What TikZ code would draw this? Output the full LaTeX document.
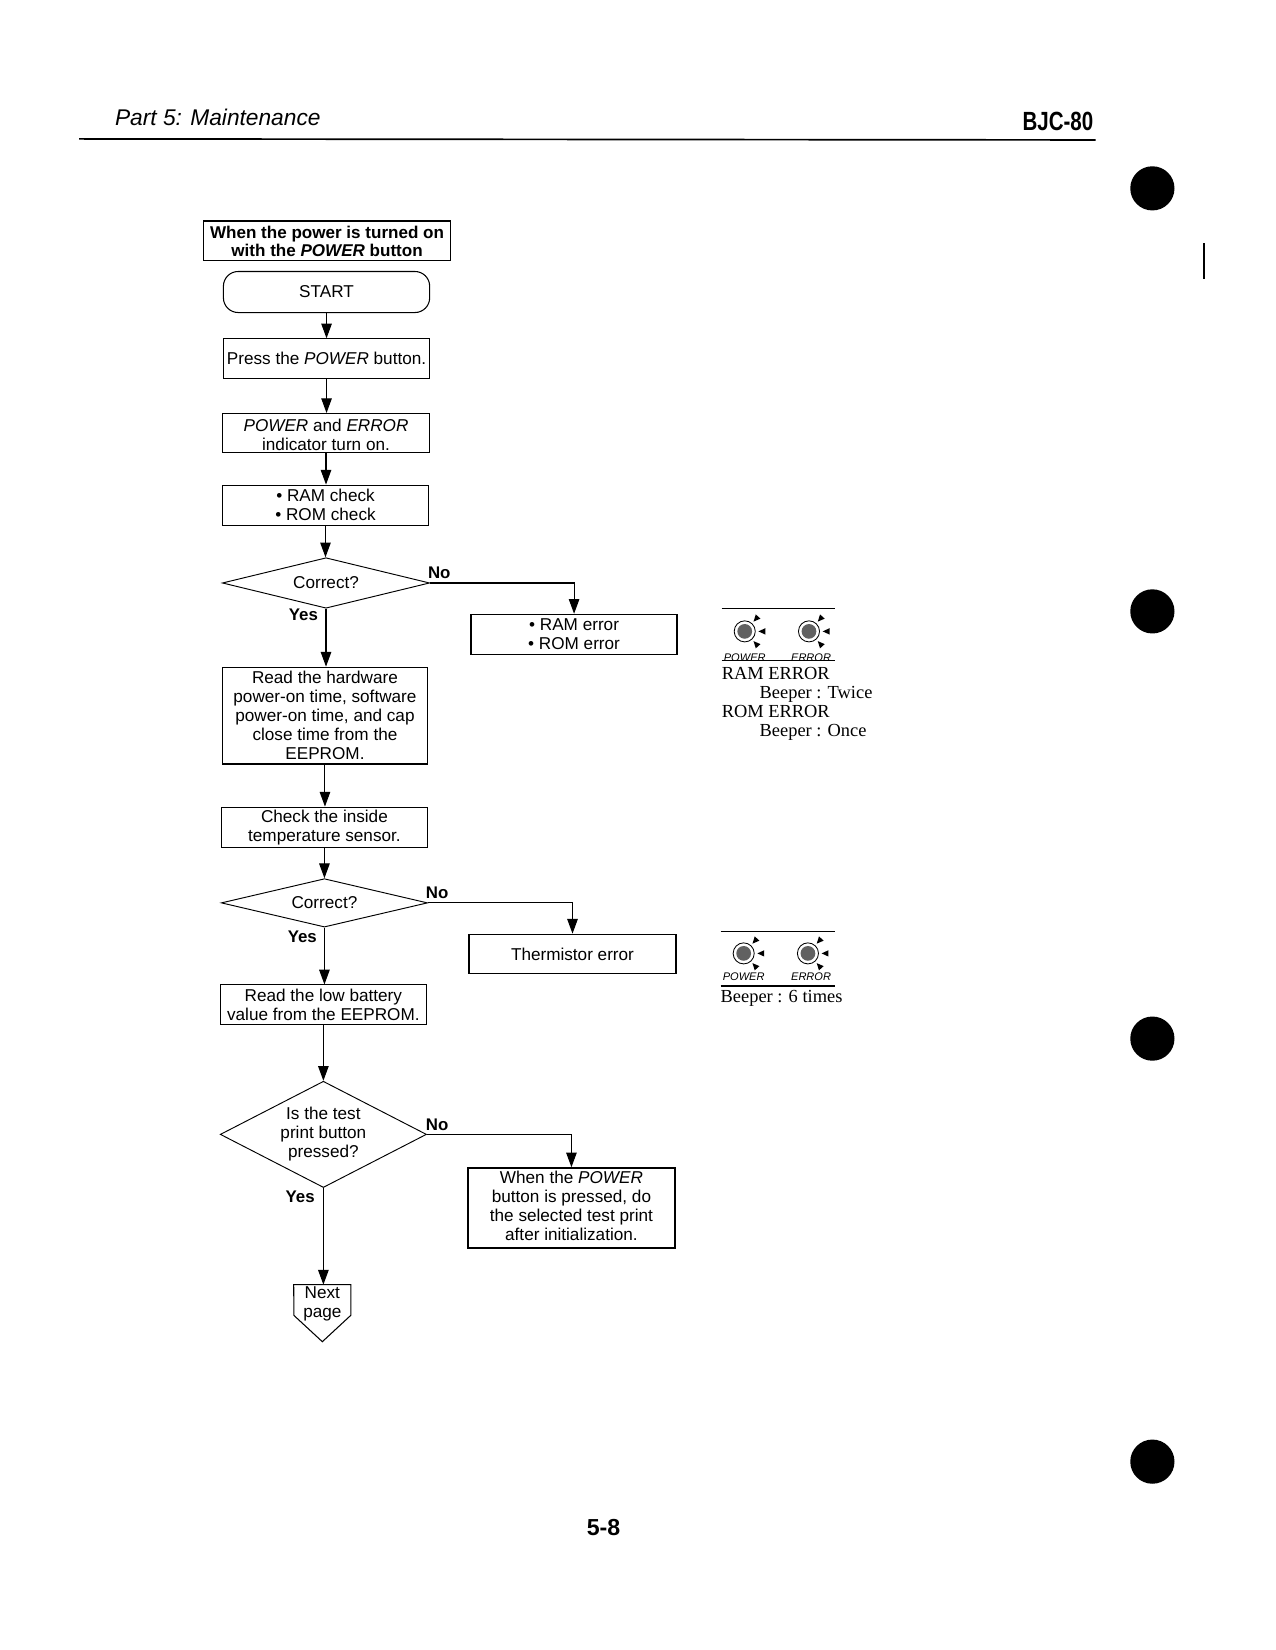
\documentclass[tikz,border=0pt]{standalone}
\usepackage{fontspec}
\setmainfont{Liberation Sans}
\newfontfamily\printface{Liberation Serif}
\usetikzlibrary{arrows.meta,shapes.geometric,calc}
\newcommand{\lowerstrut}[1]{\rule[-#1pt]{0pt}{1pt}}
\newcommand{\upperstrut}[1]{\rule{0pt}{#1pt}}
\tikzset{
  flowbox/.style={draw=black,line width=1pt,rectangle,inner sep=0pt,align=center,font=\fontsize{16.3}{18}\selectfont},
  heavybox/.style={flowbox,line width=1.5pt},
  decide/.style={draw=black,line width=0.9pt,diamond,inner sep=0pt,align=center,font=\fontsize{16.3}{18}\selectfont},
  arr/.style={draw=black,line width=1pt,-{Triangle[length=14pt,width=10pt]}},
  tag/.style={inner sep=0pt,font=\fontsize{16}{18}\selectfont\bfseries},
  printtext/.style={inner sep=0pt,anchor=west,font=\fontsize{17.5}{18}\selectfont\printface},
  ledtag/.style={inner sep=0pt,font=\fontsize{10.5}{12}\selectfont\itshape},
  rulebar/.style={draw=black,line width=1.2pt},
  led/.pic={
    \draw[black,line width=0.8pt] (0,0) circle (10);
    \fill[black!62] (0,0) circle (7);
    \foreach \a/\r in {-48/12.5,0/13,48/12.5}{
      \fill[black] (\a:\r) -- ($(\a:\r+6.5)+(\a+90:3)$) -- ($(\a:\r+6.5)+(\a-90:3)$) -- cycle;
    }
  }
}
\begin{document}
\begin{tikzpicture}[x=1.001pt,y=-1pt]
\useasboundingbox (0,0) rectangle (1210.5,1568);
% header
\node[inner sep=0pt,anchor=west,font=\fontsize{21.6}{24}\selectfont\itshape] (head) at (109,111.5) {Part 5: Maintenance};
\node[inner sep=0pt,anchor=east,xscale=0.78,font=\fontsize{25}{26}\selectfont\bfseries] (model) at (1038,115) {BJC-80};
\draw[black,line width=1.6pt] (75,132) -- (1040,133);
% page marks
\foreach \y in {179,581,987,1389} \fill[black] (1094,\y) circle (21);
\draw[black,line width=1pt] (1143,231) -- (1143,265);
% flow
\node[flowbox,minimum width=235,minimum height=38,font=\fontsize{16.2}{17}\selectfont\bfseries] (title) at (310.5,229) {When the power is turned on\\with the \textit{POWER} button};
\node[flowbox,rounded corners=14pt,minimum width=196,minimum height=39] (start) at (310,277.5) {START};
\node[flowbox,minimum width=196,minimum height=38] (press) at (310,341) {Press the \textit{POWER} button.};
\node[flowbox,minimum width=197,minimum height=37] (lamps) at (309.5,411.5) {\upperstrut{16}\textit{POWER} and \textit{ERROR}\\indicator turn on.};
\node[flowbox,minimum width=196,minimum height=38] (check) at (309,480) {• RAM check\\• ROM check};
\node[decide,aspect=4.1,minimum width=197,minimum height=48] (q1) at (309.5,554) {Correct?};
\node[heavybox,minimum width=196,minimum height=38] (err1) at (545,603) {• RAM error\\• ROM error};
\node[flowbox,minimum width=195,minimum height=92] (read) at (308.5,680) {Read the hardware\\power-on time, software\\power-on time, and cap\\close time from the\\EEPROM.};
\node[flowbox,minimum width=196,minimum height=38] (temp) at (308,786) {Check the inside\\temperature sensor.};
\node[decide,aspect=4.1,minimum width=196,minimum height=46] (q2) at (308,858) {Correct?};
\node[heavybox,minimum width=197,minimum height=37] (err2) at (543.5,906.5) {Thermistor error};
\node[flowbox,minimum width=196,minimum height=38] (low) at (307,955) {Read the low battery\\value from the EEPROM.};
\node[decide,aspect=1.94,minimum width=196,minimum height=101] (q3) at (307,1078) {Is the test\\print button\\pressed?};
\node[heavybox,minimum width=197,minimum height=76] (when) at (542.5,1148) {When the \textit{POWER}\\button is pressed, do\\the selected test print\\after initialization.\lowerstrut{5}};
\node[inner sep=0pt,minimum width=54,minimum height=36,align=center,font=\fontsize{16.3}{18}\selectfont] (nextp) at (306,1239) {Next\\page};
\draw[black,line width=1pt] (nextp.north west) -- (nextp.north east) -- ++(0,29) -- (306,1275) -- (279,1250) -- cycle;
% labels
\node[tag] (no1) at (417,544) {No};
\node[tag] (yes1) at (288,584) {Yes};
\node[tag] (no2) at (415,848) {No};
\node[tag] (yes2) at (287,890) {Yes};
\node[tag] (no3) at (415,1069) {No};
\node[tag] (yes3) at (285,1137) {Yes};
% connectors
\draw[arr] (start.south) -- (start.south |- press.north);
\draw[arr] (press.south) -- (press.south |- lamps.north);
\draw[arr] (lamps.south) -- (lamps.south |- check.north);
\draw[arr] (check.south) -- (check.south |- q1.north);
\draw[arr] (q1.south) -- (q1.south |- read.north);
\draw[arr] (read.south) -- (read.south |- temp.north);
\draw[arr] (temp.south) -- (temp.south |- q2.north);
\draw[arr] (q2.south) -- (q2.south |- low.north);
\draw[arr] (low.south) -- (low.south |- q3.north);
\draw[arr] (q3.south) -- (q3.south |- nextp.north);
\draw[arr] (q1.east) -| (err1.north);
\draw[arr] (q2.east) -| (err2.north);
\draw[arr] (q3.east) -| (when.north);
% lamp panel 1
\draw[rulebar] (685,578) -- (793,578);
\draw[rulebar] (685,628) -- (793,628);
\pic at (707,600) {led};
\pic at (768,600) {led};
\begin{scope}
\clip (680,612) rectangle (800,626.5);
\node[ledtag] (p1) at (707,625) {POWER};
\node[ledtag] (e1) at (770,625) {ERROR};
\end{scope}
\node[printtext] (t1) at (685,640) {RAM ERROR};
\node[printtext] (t2) at (721,659.5) {Beeper : Twice};
\node[printtext] (t3) at (685,676) {ROM ERROR};
\node[printtext] (t4) at (721,695.5) {Beeper : Once};
% lamp panel 2
\draw[rulebar] (684,885) -- (793,885);
\draw[rulebar] (684,937) -- (793,937);
\pic at (706,906) {led};
\pic at (767,906) {led};
\node[ledtag] (p2) at (706,928.5) {POWER};
\node[ledtag] (e2) at (770,928.5) {ERROR};
\node[printtext] (t5) at (684,949) {Beeper : 6 times};
% folio
\node[inner sep=0pt,font=\fontsize{22}{24}\selectfont\bfseries] (folio) at (573,1452) {5-8};
\end{tikzpicture}
\end{document}
